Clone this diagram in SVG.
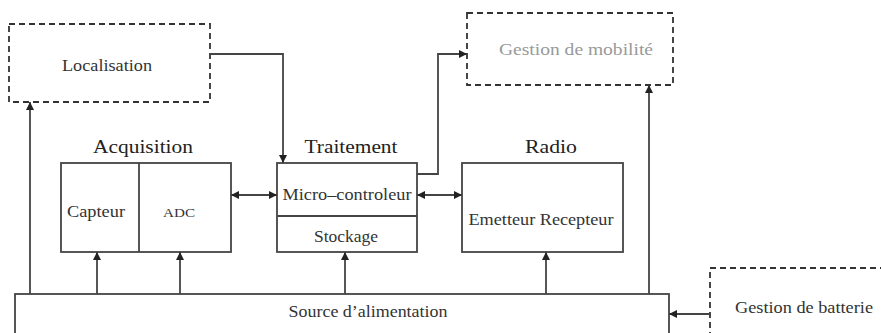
<svg xmlns="http://www.w3.org/2000/svg" width="881" height="333" viewBox="0 0 881 333">
<style>
.box{fill:none;stroke:#444;stroke-width:1.8}
.dash{fill:none;stroke:#333;stroke-width:1.8;stroke-dasharray:6,4}
.ln{fill:none;stroke:#444;stroke-width:1.8}
.t{font-family:"Liberation Serif","Times New Roman",serif;font-size:16px;fill:#333;text-anchor:middle}
.h{font-family:"Liberation Serif","Times New Roman",serif;font-size:19px;fill:#222;text-anchor:middle}
.g{fill:#999}
</style>
<defs>
<marker id="a" viewBox="0 0 10 10" refX="10" refY="5" markerWidth="10" markerHeight="8" markerUnits="userSpaceOnUse" orient="auto-start-reverse">
<path d="M0,0 L10,5 L0,10 z" fill="#222"/>
</marker>
</defs>
<rect width="881" height="333" fill="#fff"/>
<g id="localisation">
<rect class="dash" x="9" y="24" width="201" height="78"/>
<text class="t" x="107" y="71" textLength="90" lengthAdjust="spacingAndGlyphs">Localisation</text>
</g>
<g id="mobilite">
<rect class="dash" x="467" y="13" width="206" height="72"/>
<text class="t g" x="576" y="55" textLength="154" lengthAdjust="spacingAndGlyphs">Gestion de mobilité</text>
</g>
<g id="acquisition">
<text class="h" x="143" y="153" textLength="100" lengthAdjust="spacingAndGlyphs">Acquisition</text>
<rect class="box" x="61" y="163" width="170" height="89"/>
<line class="ln" x1="139" y1="163" x2="139" y2="252"/>
<text class="t" x="96" y="217" textLength="58" lengthAdjust="spacingAndGlyphs">Capteur</text>
<text class="t" x="179" y="217" style="font-size:12px" textLength="32" lengthAdjust="spacingAndGlyphs">ADC</text>
</g>
<g id="traitement">
<text class="h" x="351" y="153" textLength="93" lengthAdjust="spacingAndGlyphs">Traitement</text>
<rect class="box" x="277" y="163" width="140" height="89"/>
<line class="ln" x1="277" y1="216" x2="417" y2="216"/>
<text class="t" x="347" y="200" textLength="129" lengthAdjust="spacingAndGlyphs">Micro–controleur</text>
<text class="t" x="346" y="242" textLength="64" lengthAdjust="spacingAndGlyphs">Stockage</text>
</g>
<g id="radio">
<text class="h" x="551" y="153" textLength="52" lengthAdjust="spacingAndGlyphs">Radio</text>
<rect class="box" x="462" y="163" width="161" height="89"/>
<text class="t" x="541" y="225" textLength="145" lengthAdjust="spacingAndGlyphs">Emetteur Recepteur</text>
</g>
<g id="source">
<rect class="box" x="15" y="294" width="654" height="50"/>
<text class="t" x="368" y="317" textLength="159" lengthAdjust="spacingAndGlyphs">Source d’alimentation</text>
</g>
<g id="batterie">
<rect class="dash" x="710" y="268" width="190" height="80"/>
<text class="t" x="804" y="313" textLength="138" lengthAdjust="spacingAndGlyphs">Gestion de batterie</text>
</g>
<g id="connectors">
<polyline class="ln" points="210,54 283,54 283,163" marker-end="url(#a)"/>
<polyline class="ln" points="417,174 438,174 438,54 467,54" marker-end="url(#a)"/>
<line class="ln" x1="30" y1="294" x2="30" y2="102" marker-end="url(#a)"/>
<line class="ln" x1="649" y1="294" x2="649" y2="85" marker-end="url(#a)"/>
<line class="ln" x1="231" y1="195" x2="277" y2="195" marker-start="url(#a)" marker-end="url(#a)"/>
<line class="ln" x1="417" y1="195" x2="462" y2="195" marker-start="url(#a)" marker-end="url(#a)"/>
<line class="ln" x1="97" y1="294" x2="97" y2="252" marker-end="url(#a)"/>
<line class="ln" x1="180" y1="294" x2="180" y2="252" marker-end="url(#a)"/>
<line class="ln" x1="345" y1="294" x2="345" y2="252" marker-end="url(#a)"/>
<line class="ln" x1="546" y1="294" x2="546" y2="252" marker-end="url(#a)"/>
<line class="ln" x1="710" y1="314" x2="669" y2="314" marker-end="url(#a)"/>
</g>
</svg>
